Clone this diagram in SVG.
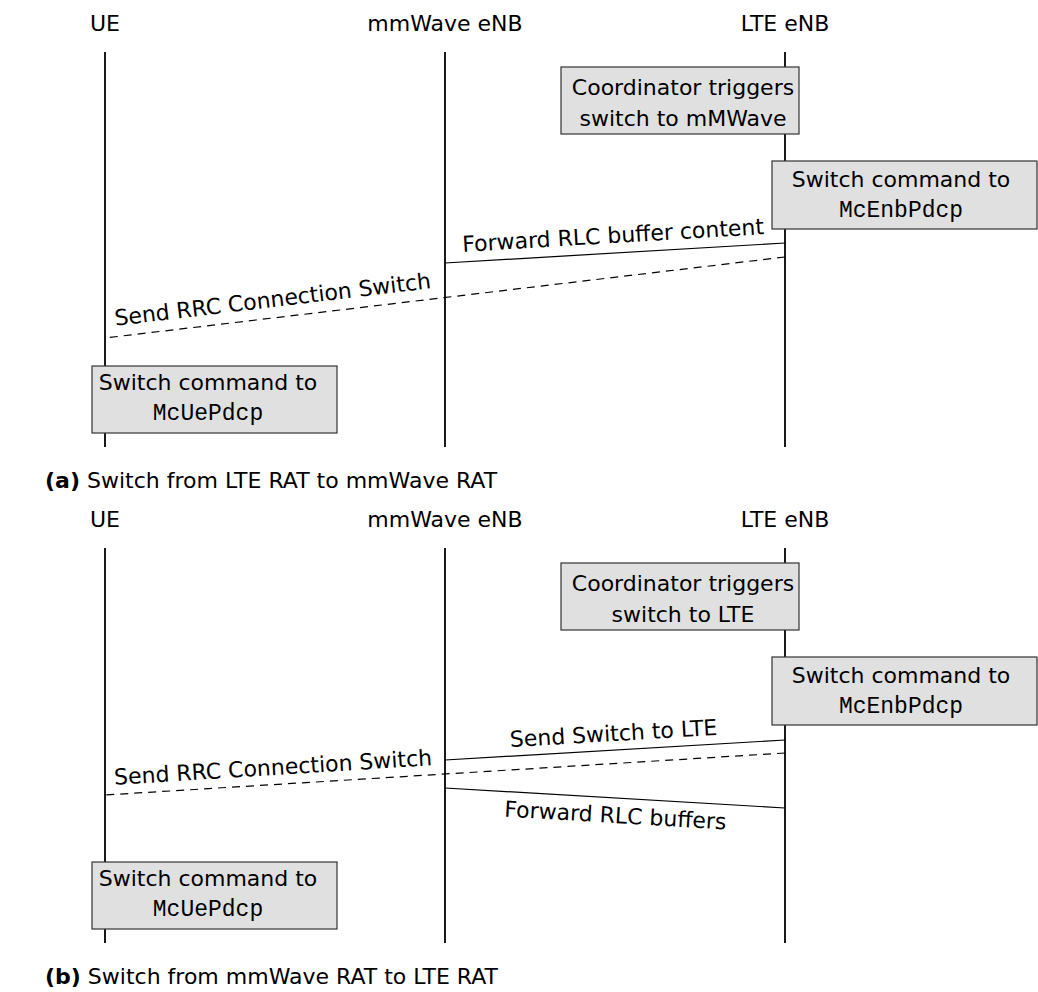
<svg xmlns="http://www.w3.org/2000/svg" width="1038" height="992" viewBox="0 0 1038 992">
<style>
  text { font-family: "DejaVu Sans", "Liberation Sans", sans-serif; font-size: 22px; fill: #000; }
  .mono { font-family: "Liberation Mono", "DejaVu Sans Mono", monospace; font-size: 23px; }
  .hdr { text-anchor: middle; }
  .c { text-anchor: middle; }
  .life { stroke: #000; stroke-width: 1.8; fill: none; }
  .box { fill: #e0e0e0; stroke: #333; stroke-width: 1.2; }
  .msg { stroke: #000; stroke-width: 1.2; fill: none; }
  .dash { stroke: #000; stroke-width: 1.2; fill: none; stroke-dasharray: 8 6; }
  .cap { font-size: 22px; }
  .b { font-weight: bold; }
</style>
<rect width="1038" height="992" fill="#fff"/>

<!-- ===== Panel (a) ===== -->
<g id="a-ue">
  <text class="hdr" x="105" y="31">UE</text>
  <line class="life" x1="105" y1="52" x2="105" y2="447"/>
</g>
<g id="a-mmwave">
  <text class="hdr" x="445" y="31">mmWave eNB</text>
  <line class="life" x1="445" y1="52" x2="445" y2="447"/>
</g>
<g id="a-lte">
  <text class="hdr" x="785" y="31">LTE eNB</text>
  <line class="life" x1="785" y1="52" x2="785" y2="447"/>
</g>

<g id="a-connectors">
  <line class="msg" x1="445" y1="263" x2="785" y2="243"/>
  <text class="c" transform="translate(613.5,243) rotate(-3.37)">Forward RLC buffer content</text>
  <line class="dash" x1="785" y1="257" x2="105" y2="338"/>
  <text class="c" transform="translate(273.5,307) rotate(-6.79)">Send RRC Connection Switch</text>
</g>

<g id="a-coord">
  <rect class="box" x="561" y="67" width="238" height="67"/>
  <text class="c" x="683" y="95">Coordinator triggers</text>
  <text class="c" x="683" y="126">switch to mMWave</text>
</g>
<g id="a-enbcmd">
  <rect class="box" x="772" y="161" width="265" height="68"/>
  <text class="c" x="901" y="187">Switch command to</text>
  <text class="c mono" x="901" y="217">McEnbPdcp</text>
</g>
<g id="a-uecmd">
  <rect class="box" x="92" y="366" width="245" height="67"/>
  <text class="c" x="208" y="390">Switch command to</text>
  <text class="c mono" x="208" y="420">McUePdcp</text>
</g>

<g id="caption-a">
  <text class="cap" x="45" y="488"><tspan class="b">(a)</tspan> Switch from LTE RAT to mmWave RAT</text>
</g>

<!-- ===== Panel (b) ===== -->
<g id="b-ue">
  <text class="hdr" x="105" y="527">UE</text>
  <line class="life" x1="105" y1="548" x2="105" y2="943"/>
</g>
<g id="b-mmwave">
  <text class="hdr" x="445" y="527">mmWave eNB</text>
  <line class="life" x1="445" y1="548" x2="445" y2="943"/>
</g>
<g id="b-lte">
  <text class="hdr" x="785" y="527">LTE eNB</text>
  <line class="life" x1="785" y1="548" x2="785" y2="943"/>
</g>

<g id="b-connectors">
  <line class="msg" x1="445" y1="760" x2="785" y2="740"/>
  <text class="c" transform="translate(614,741) rotate(-3.37)">Send Switch to LTE</text>
  <line class="dash" x1="785" y1="753" x2="105" y2="795"/>
  <text class="c" transform="translate(273.5,775) rotate(-3.54)">Send RRC Connection Switch</text>
  <line class="msg" x1="445" y1="788" x2="785" y2="808"/>
  <text class="c" transform="translate(615,823) rotate(3.37)">Forward RLC buffers</text>
</g>

<g id="b-coord">
  <rect class="box" x="561" y="563" width="238" height="67"/>
  <text class="c" x="683" y="591">Coordinator triggers</text>
  <text class="c" x="683" y="622">switch to LTE</text>
</g>
<g id="b-enbcmd">
  <rect class="box" x="772" y="657" width="265" height="68"/>
  <text class="c" x="901" y="683">Switch command to</text>
  <text class="c mono" x="901" y="713">McEnbPdcp</text>
</g>
<g id="b-uecmd">
  <rect class="box" x="92" y="862" width="245" height="67"/>
  <text class="c" x="208" y="886">Switch command to</text>
  <text class="c mono" x="208" y="916">McUePdcp</text>
</g>

<g id="caption-b">
  <text class="cap" x="45" y="984"><tspan class="b">(b)</tspan> Switch from mmWave RAT to LTE RAT</text>
</g>
</svg>
